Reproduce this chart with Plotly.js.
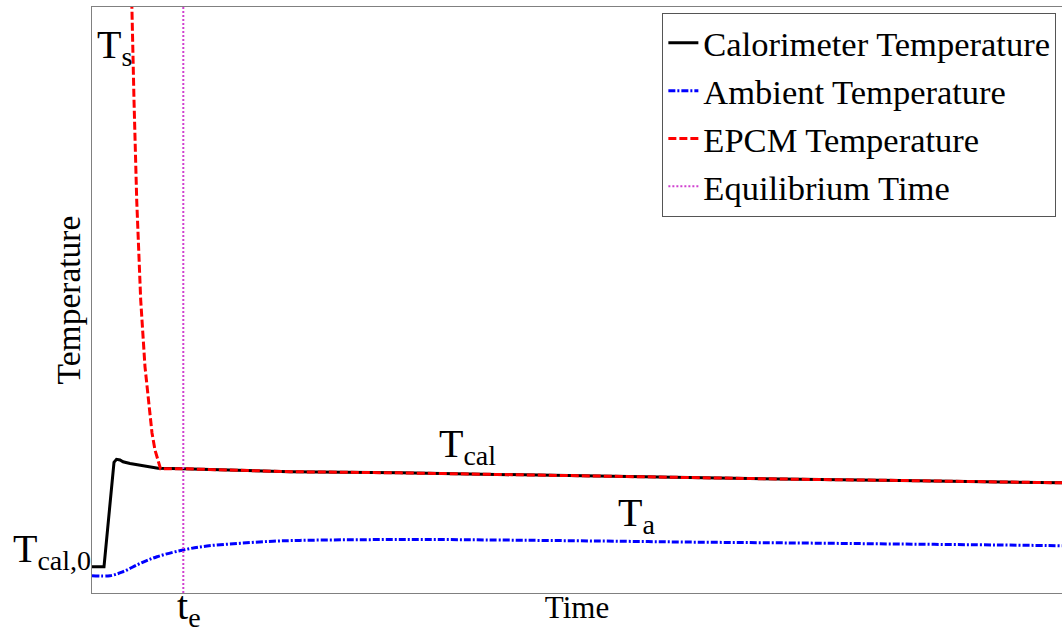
<!DOCTYPE html>
<html>
<head>
<meta charset="utf-8">
<script src="https://cdn.plot.ly/plotly-3.0.1.min.js"></script>
<style>
  html, body { margin: 0; padding: 0; background: #fff; overflow: hidden; }
  #chart { width: 1062px; height: 632px; }
</style>
</head>
<body>
<div id="chart"></div>
<script>
// Time axis (arbitrary units) and temperatures (arbitrary units)
const calTime  = [0, 12, 22, 24.5, 28, 31, 38, 48, 58, 66, 91, 158, 198, 308, 408, 508, 608, 708, 808, 908, 970];
const calTemp  = [4.5, 4.5, 22.3, 22.8, 22.7, 22.4, 22.1, 21.8, 21.5, 21.3, 21.2, 20.9, 20.7, 20.5, 20.2, 20.0, 19.7, 19.4, 19.2, 18.9, 18.8];

const ambTime  = [0, 18, 31, 48, 65, 91, 115, 148, 181, 208, 258, 308, 358, 408, 508, 608, 708, 808, 908, 970];
const ambTemp  = [2.95, 2.95, 3.63, 5.03, 6.19, 7.34, 8.02, 8.48, 8.84, 8.98, 9.08, 9.13, 9.11, 9.04, 8.87, 8.67, 8.53, 8.36, 8.19, 8.07];

const epcmTime = [37, 39.7, 42, 44.7, 48.7, 53, 56.3, 60, 63, 66.3, 68.5, 91, 158, 198, 308, 408, 508, 608, 708, 808, 908, 970];
const epcmTemp = [121.7, 99.5, 84.1, 67.1, 50.0, 38.6, 32.8, 27.3, 24.4, 22.2, 21.2, 21.2, 20.9, 20.7, 20.5, 20.2, 20.0, 19.7, 19.4, 19.2, 18.9, 18.8];

const eqTime   = [91.3, 91.3];
const eqTemp   = [0, 100];

const seriesNames = ['Calorimeter Temperature', 'Ambient Temperature', 'EPCM Temperature', 'Equilibrium Time'];
const xTitle = 'Time';
const yTitle = 'Temperature';

const FONT = '"Liberation Serif", "Times New Roman", serif';

const traces = [
  { x: calTime, y: calTemp, name: seriesNames[0], mode: 'lines',
    line: { color: '#000000', width: 3 } },
  { x: ambTime, y: ambTemp, name: seriesNames[1], mode: 'lines',
    line: { shape: 'spline', color: '#0000FF', width: 3, dash: '7px,2px,2px,2px' } },
  { x: epcmTime, y: epcmTemp, name: seriesNames[2], mode: 'lines',
    line: { color: '#FF0000', width: 3, dash: '8px,3px' } },
  { x: eqTime, y: eqTemp, name: seriesNames[3], mode: 'lines',
    line: { color: '#D040D0', width: 2, dash: '2px,2px' } }
];

const annFont = { family: FONT, size: 40, color: '#000' };
const layout = {
  width: 1062, height: 632,
  margin: { l: 92, r: 0, t: 7, b: 39, autoexpand: false },
  paper_bgcolor: '#fff', plot_bgcolor: '#fff',
  font: { family: FONT, color: '#000' },
  showlegend: true,
  legend: {
    x: 0.588, xanchor: 'left', y: 0.99, yanchor: 'top',
    bgcolor: '#fff', bordercolor: '#555', borderwidth: 1,
    font: { family: FONT, size: 34.5, color: '#000' },
    itemwidth: 30, tracegroupgap: 0
  },
  xaxis: {
    range: [0, 970], showgrid: false, zeroline: false, showticklabels: false, ticks: '',
    showline: true, mirror: true, linecolor: '#808080', linewidth: 1,
    title: { text: xTitle, font: { family: FONT, size: 31, color: '#000' }, standoff: 3 }
  },
  yaxis: {
    range: [0, 100], showgrid: false, zeroline: false, showticklabels: false, ticks: '',
    showline: true, mirror: false, linecolor: '#808080', linewidth: 1,
    title: { text: yTitle, font: { family: FONT, size: 33.5, color: '#000' }, standoff: 0 }
  },
  annotations: [
    { text: 'T<sub>s</sub>', xref: 'paper', yref: 'paper', x: 0.003, y: 0.932, xanchor: 'left', yanchor: 'middle', showarrow: false, font: annFont },
    { text: 'T<sub>cal</sub>', xref: 'paper', yref: 'paper', x: 0.356, y: 0.251, xanchor: 'left', yanchor: 'middle', showarrow: false, font: annFont },
    { text: 'T<sub>a</sub>', xref: 'paper', yref: 'paper', x: 0.540, y: 0.133, xanchor: 'left', yanchor: 'middle', showarrow: false, font: annFont },
    { text: 'T<sub>cal,0</sub>', xref: 'paper', yref: 'paper', x: -0.0835, y: 0.0717, xanchor: 'left', yanchor: 'middle', showarrow: false, font: annFont },
    { text: 't<sub>e</sub>', xref: 'paper', yref: 'paper', x: 0.0856, y: -0.026, xanchor: 'left', yanchor: 'middle', showarrow: false, font: annFont }
  ]
};

Plotly.newPlot('chart', traces, layout, { displayModeBar: false, staticPlot: true });
</script>
</body>
</html>
